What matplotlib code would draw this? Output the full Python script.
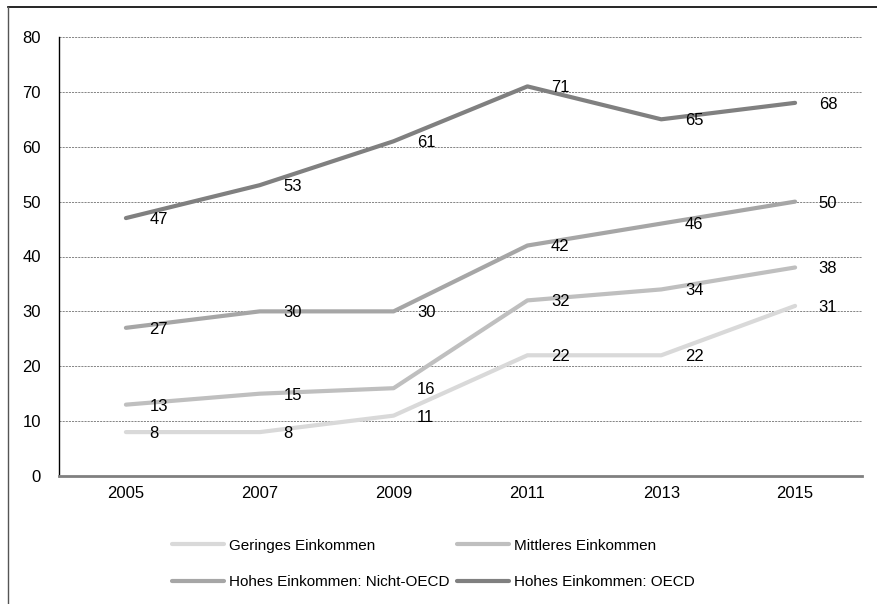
import matplotlib.pyplot as plt
from matplotlib.lines import Line2D

# Daten
years = ['2005', '2007', '2009', '2011', '2013', '2015']
geringes = [8, 8, 11, 22, 22, 31]
mittleres = [13, 15, 16, 32, 34, 38]
nicht_oecd = [27, 30, 30, 42, 46, 50]
oecd = [47, 53, 61, 71, 65, 68]

series = [
    ('Geringes Einkommen', geringes, '#d9d9d9'),
    ('Mittleres Einkommen', mittleres, '#bfbfbf'),
    ('Hohes Einkommen: Nicht-OECD', nicht_oecd, '#a6a6a6'),
    ('Hohes Einkommen: OECD', oecd, '#808080'),
]

plt.rcParams['font.family'] = ['Liberation Sans', 'DejaVu Sans']

W, H = 878, 604
fig = plt.figure(figsize=(W / 100, H / 100), dpi=100)
ax = fig.add_axes([59 / W, 1 - 476 / H, (862 - 59) / W, (476 - 37) / H])

x = list(range(len(years)))
handles = []
for name, vals, col in series:
    ln, = ax.plot(x, vals, color=col, lw=3, label=name, solid_capstyle='round', zorder=3)
    handles.append(ln)
    for xi, v in zip(x, vals):
        ax.annotate(str(v), (xi, v), xytext=(17, -1), textcoords='offset points',
                    va='center', ha='left', fontsize=12, color='black', zorder=4)

ax.set_xlim(-0.5, len(years) - 0.5)
ax.set_ylim(0, 80)
ax.set_yticks(range(0, 81, 10))
ax.set_xticks(x)
ax.set_xticklabels(years)
ax.tick_params(length=0, labelsize=12, colors='black')
ax.tick_params(axis='x', pad=7)
ax.tick_params(axis='y', pad=13)
ax.grid(axis='y', color='#555555', ls=(0, (3, 1.5)), lw=0.5)
ax.set_axisbelow(True)
for s in ['top', 'right']:
    ax.spines[s].set_visible(False)
ax.spines['left'].set_color('black')
ax.spines['left'].set_linewidth(1)
ax.spines['bottom'].set_color('#808080')
ax.spines['bottom'].set_linewidth(2)

# zeilenweise Reihenfolge wie im Original
order = [0, 2, 1, 3]
fig.legend([handles[i] for i in order], [series[i][0] for i in order],
           loc='center', bbox_to_anchor=(433 / W, 1 - 564 / H), ncol=2, frameon=False,
           fontsize=11, handlelength=3.4, handletextpad=0.33, columnspacing=0.5,
           labelspacing=1.5)

# Rahmen
fig.add_artist(Line2D([8 / W, 1], [1 - 7 / H, 1 - 7 / H], color='black', lw=1.2))
fig.add_artist(Line2D([8 / W, 8 / W], [0, 1 - 7 / H], color='#555555', lw=1))

fig.savefig('out.png', dpi=100)
